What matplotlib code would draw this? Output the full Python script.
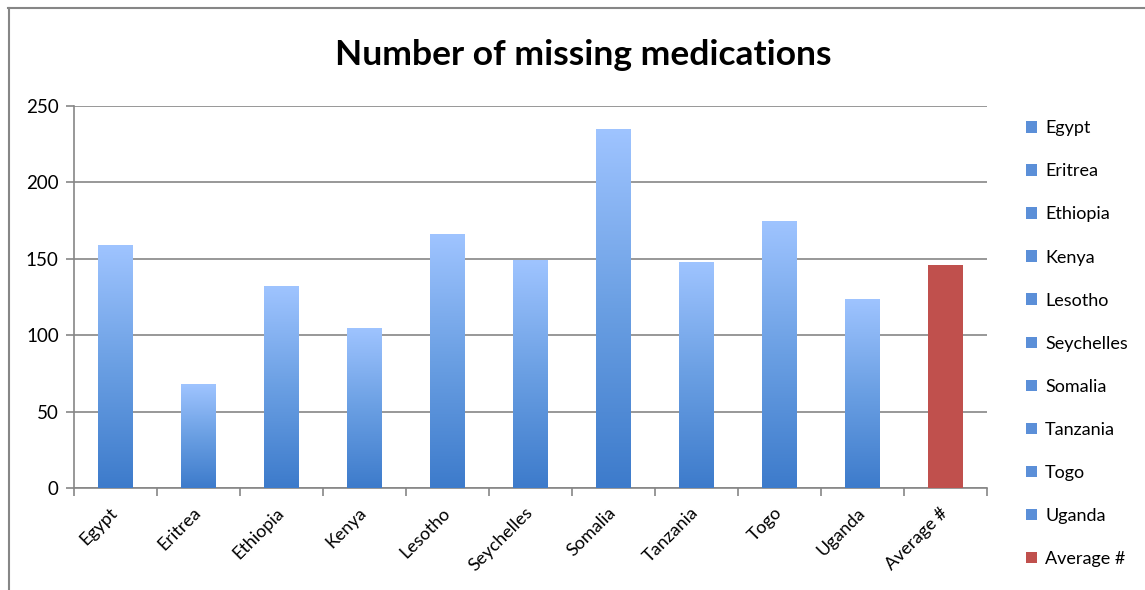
import matplotlib.pyplot as plt
import numpy as np
from matplotlib.colors import LinearSegmentedColormap
from matplotlib.lines import Line2D
from matplotlib.patches import Patch
from matplotlib.transforms import ScaledTranslation

plt.rcParams['font.family'] = ['Lato', 'DejaVu Sans']

# Data
countries = ['Egypt', 'Eritrea', 'Ethiopia', 'Kenya', 'Lesotho', 'Seychelles',
             'Somalia', 'Tanzania', 'Togo', 'Uganda']
missing = [159, 68, 132, 105, 166, 149, 235, 148, 175, 124]
avg_label = 'Average #'
avg_value = 146

labels = countries + [avg_label]
values = missing + [avg_value]
y_ticks = [0, 50, 100, 150, 200, 250]

blue_grad = LinearSegmentedColormap.from_list('bg', ['#3d7bcb', '#6a9fe3', '#9fc4ff'])
red = '#c0504d'
grid_col = '#868686'

fig = plt.figure(figsize=(11.45, 5.9), dpi=100)
ax = fig.add_axes([74 / 1145, 1 - 488 / 590, (987 - 74) / 1145, (488 - 106) / 590])

x = np.arange(len(labels))
bars = ax.bar(x, values, width=0.41, color=['#5b8fd8'] * len(countries) + [red],
              zorder=3, linewidth=0)

# gradient fill for the country bars
grad = np.linspace(0, 1, 256).reshape(-1, 1)
for b in bars[:len(countries)]:
    bx, by = b.get_x(), b.get_y()
    w, h = b.get_width(), b.get_height()
    im = ax.imshow(grad, cmap=blue_grad, aspect='auto', origin='lower',
                   extent=[bx, bx + w, by, by + h], zorder=4)
    im.set_clip_path(b)

ax.set_xlim(-0.5, len(labels) - 0.5)
ax.set_ylim(0, 250)
ax.set_yticks(y_ticks)
ax.yaxis.grid(True, color=grid_col, linewidth=1.2, zorder=0)
ax.set_axisbelow(True)

ax.set_xticks(x)
ax.set_xticklabels(labels, rotation=45, ha='right', rotation_mode='anchor', fontsize=13)
ax.set_xticks(np.arange(-0.5, len(labels)), minor=True)
ax.tick_params(axis='x', which='major', length=0, pad=12)
ax.tick_params(axis='x', which='minor', length=6, color=grid_col, width=1.2)
ax.tick_params(axis='y', length=6, color=grid_col, width=1.2, labelsize=13.5, pad=5)
# nudge rotated labels a little to the left, as in the original
shift = ScaledTranslation(-6 / 100, 0, fig.dpi_scale_trans)
for t in ax.get_xticklabels():
    t.set_transform(t.get_transform() + shift)

for s in ['top', 'right']:
    ax.spines[s].set_visible(False)
for s in ['left', 'bottom']:
    ax.spines[s].set_color(grid_col)
    ax.spines[s].set_linewidth(1.2)

fig.text(583 / 1145, 1 - 55 / 590, 'Number of missing medications',
         ha='center', va='center', fontsize=25.5, fontweight='bold')

# legend
handles = [Patch(facecolor='#5b8fd8', edgecolor='none') for _ in countries]
handles.append(Patch(facecolor=red, edgecolor='none'))
fig.legend(handles, labels, loc='upper left', bbox_to_anchor=(1010 / 1145, 1 - 104 / 590),
           frameon=False, fontsize=13, handlelength=0.6, handleheight=0.6,
           handletextpad=0.45, labelspacing=1.5)

# chart area border (top and left visible)
fig.add_artist(Line2D([8 / 1145, 1], [1 - 8 / 590, 1 - 8 / 590], color=grid_col, lw=1.5))
fig.add_artist(Line2D([8.5 / 1145, 8.5 / 1145], [0, 1 - 8 / 590], color=grid_col, lw=1.5))

fig.savefig('out.png', dpi=100, facecolor='white')
